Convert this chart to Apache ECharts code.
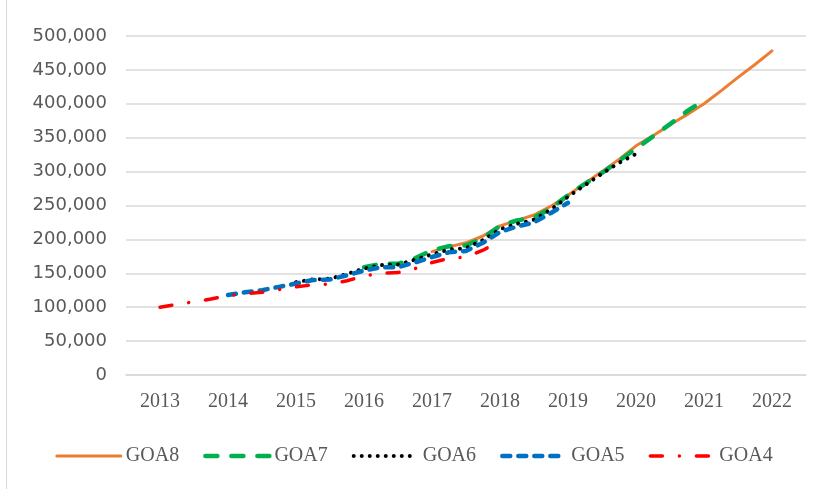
<!DOCTYPE html>
<html>
<head>
<meta charset="utf-8">
<script src="https://cdn.jsdelivr.net/npm/echarts@6/dist/echarts.min.js"></script>
<style>
    html, body { margin: 0; padding: 0; background: #fff; }
    #chart { width: 828px; height: 489px; }
    #frame { position: absolute; left: 6px; top: 0; width: 1px; height: 489px; background: #d9d9d9; }
</style>
</head>
<body>
<div id="frame"></div>
<div id="chart"></div>
<script>
// quarterly positions, padded half a year on each side so the years sit mid-band
const quarters = [];
for (let y = 2012; y <= 2022; y++) {
    for (let q = 1; q <= 4; q++) {
        if (y === 2012 && q < 3) continue;
        if (y === 2022 && q > 3) continue;
        quarters.push(y + 'Q' + q);
    }
}

// values in thousands, one per quarter, from the quarter named in *Start
const goa8Start = '2017Q1';
const goa8 = [182, 189, 195, 205, 220, 228, 236, 249, 265, 283, 300, 318, 338, 353, 369, 384, 400, 419, 439, 458, 478];
const goa7Start = '2016Q1';
const goa7 = [159, 164, 164, 172, 184, 190, 191, 202, 220, 228, 232, 246, 265, 282, 298, 316, 334, 352, 370, 389, 405];
const goa6Start = '2015Q1';
const goa6 = [137, 141, 142, 149, 157, 162, 163, 170, 178, 185, 187, 199, 215, 223, 229, 244, 263, 280, 297, 313, 326];
const goa5Start = '2014Q1';
const goa5 = [118, 122, 125, 130, 135, 140, 141, 147, 154, 159, 159, 166, 174, 181, 183, 195, 211, 219, 225, 239, 254];
const goa4Start = '2013Q1';
const goa4 = [100, 104, 108, 112, 117, 120, 122, 126, 130, 133, 134, 139, 146, 150, 151, 157, 166, 172, 174, 184, 198];

// lay a series onto the quarter axis
function pad(start, vals) {
    const out = quarters.map(() => null);
    const i0 = quarters.indexOf(start);
    vals.forEach((v, i) => { out[i0 + i] = v * 1000; });
    return out;
}

const chart = echarts.init(document.getElementById('chart'));

const styles = {
    GOA8: { color: '#ED7D31', width: 3, type: 'solid' },
    GOA7: { color: '#00B050', width: 4.5, type: [12, 14] },
    GOA6: { color: '#000000', width: 4, type: [0.01, 8] },
    GOA5: { color: '#0070C0', width: 4.5, type: [8, 8] },
    GOA4: { color: '#FF0000', width: 3.5, type: [12, 17, 0.01, 17] },
};

const mkLine = (name, start, vals) => ({
    name: name,
    type: 'line',
    data: pad(start, vals),
    symbol: 'none',
    lineStyle: { color: styles[name].color, width: styles[name].width, type: styles[name].type, cap: 'round' },
    itemStyle: { color: styles[name].color },
});

chart.setOption({
    animation: false,
    grid: { left: 126, right: 22, top: 36, bottom: 114 },
    xAxis: {
        type: 'category',
        data: quarters,
        boundaryGap: false,
        axisLine: { lineStyle: { color: '#d9d9d9', width: 1.5 } },
        axisTick: { show: false },
        axisLabel: {
            interval: 0,
            margin: 17,
            color: '#595959',
            fontFamily: 'Liberation Serif',
            fontSize: 20,
            formatter: (v) => (v.endsWith('Q1') ? v.slice(0, 4) : ''),
        },
    },
    yAxis: {
        type: 'value',
        min: 0,
        max: 500000,
        interval: 50000,
        axisLine: { show: false },
        axisTick: { show: false },
        splitLine: { lineStyle: { color: '#d9d9d9', width: 1.5 } },
        axisLabel: {
            margin: 19,
            color: '#595959',
            fontFamily: 'DejaVu Sans',
            fontSize: 18,
            formatter: (v) => v.toLocaleString('en-US'),
        },
    },
    legend: {
        left: 'center',
        top: 441,
        itemWidth: 64,
        itemHeight: 14,
        itemGap: 24,
        textStyle: { color: '#595959', fontFamily: 'Liberation Serif', fontSize: 20 },
        data: Object.keys(styles).map((k) => ({
            name: k,
            itemStyle: { opacity: 0 },
            lineStyle: { color: styles[k].color, width: styles[k].width, type: styles[k].type, cap: 'round' },
        })),
    },
    series: [
        mkLine('GOA8', goa8Start, goa8),
        mkLine('GOA7', goa7Start, goa7),
        mkLine('GOA6', goa6Start, goa6),
        mkLine('GOA5', goa5Start, goa5),
        mkLine('GOA4', goa4Start, goa4),
    ],
});
</script>
</body>
</html>
